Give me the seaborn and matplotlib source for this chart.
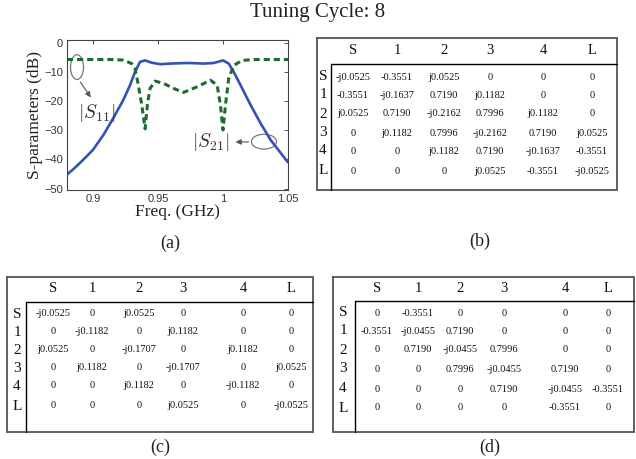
import numpy as np
import pandas as pd
import matplotlib
matplotlib.use("Agg")
import matplotlib.pyplot as plt
from matplotlib.patches import Ellipse
import seaborn as sns

# ---------------- data ----------------
s21_freq = [0.880, 0.885, 0.890, 0.895, 0.900, 0.908, 0.9155, 0.9233, 0.9285, 0.9323,
            0.9362, 0.9401, 0.9452, 0.9516, 0.9594, 0.9650, 0.9723, 0.9800, 0.9851,
            0.9928, 0.9970, 1.0000, 1.0044, 1.0083, 1.0135, 1.0212, 1.0289, 1.0366,
            1.0444, 1.0500]
s21_db = [-45.2, -43.3, -41.2, -39.0, -36.7, -31.6, -25.9, -19.6, -14.5, -10.0,
          -6.5, -6.0, -6.8, -7.3, -7.1, -7.0, -6.9, -7.0, -7.1,
          -6.9, -6.4, -6.0, -7.1, -10.0, -14.5, -21.3, -27.6, -33.3,
          -37.8, -41.0]

s11_freq = [0.880, 0.900, 0.915, 0.9233, 0.9298, 0.9323, 0.9349, 0.9375, 0.9401, 0.9418,
            0.9439, 0.9478, 0.9542, 0.9619, 0.9696, 0.9800, 0.9903, 0.9955, 0.9980,
            1.0000, 1.0019, 1.0044, 1.0083, 1.0148, 1.0250, 1.0500]
s11_db = [-5.7, -5.7, -5.7, -5.9, -7.1, -8.8, -14.5, -21.3, -29.5, -21.3,
          -15.6, -13.1, -13.9, -15.6, -17.0, -15.1, -12.8, -14.5, -21.3,
          -29.9, -21.3, -12.2, -7.7, -6.0, -5.7, -5.7]

x_ticks = [0.9, 0.95, 1.0, 1.05]
x_tick_labels = ["0.9", "0.95", "1", "1.05"]
y_ticks = [0, -10, -20, -30, -40, -50]

nodes = ["S", "1", "2", "3", "4", "L"]

matrix_b = [
    ["-j0.0525", "-0.3551", "j0.0525", "0", "0", "0"],
    ["-0.3551", "-j0.1637", "0.7190", "j0.1182", "0", "0"],
    ["j0.0525", "0.7190", "-j0.2162", "0.7996", "j0.1182", "0"],
    ["0", "j0.1182", "0.7996", "-j0.2162", "0.7190", "j0.0525"],
    ["0", "0", "j0.1182", "0.7190", "-j0.1637", "-0.3551"],
    ["0", "0", "0", "j0.0525", "-0.3551", "-j0.0525"],
]
matrix_c = [
    ["-j0.0525", "0", "j0.0525", "0", "0", "0"],
    ["0", "-j0.1182", "0", "j0.1182", "0", "0"],
    ["j0.0525", "0", "-j0.1707", "0", "j0.1182", "0"],
    ["0", "j0.1182", "0", "-j0.1707", "0", "j0.0525"],
    ["0", "0", "j0.1182", "0", "-j0.1182", "0"],
    ["0", "0", "0", "j0.0525", "0", "-j0.0525"],
]
matrix_d = [
    ["0", "-0.3551", "0", "0", "0", "0"],
    ["-0.3551", "-j0.0455", "0.7190", "0", "0", "0"],
    ["0", "0.7190", "-j0.0455", "0.7996", "0", "0"],
    ["0", "0", "0.7996", "-j0.0455", "0.7190", "0"],
    ["0", "0", "0", "0.7190", "-j0.0455", "-0.3551"],
    ["0", "0", "0", "0", "-0.3551", "0"],
]

# ---------------- style ----------------
sns.set_theme(style="white")
plt.rcParams["font.family"] = ["Liberation Serif", "DejaVu Serif"]
plt.rcParams["mathtext.fontset"] = "cm"

W, H = 636, 459
fig = plt.figure(figsize=(W / 100, H / 100), dpi=100)

# overlay axes in pixel coordinates for tables / captions
ov = fig.add_axes([0, 0, 1, 1])
ov.set_xlim(0, W)
ov.set_ylim(H, 0)
ov.axis("off")

ov.text(318, 13, "Tuning Cycle: 8", ha="center", va="center", fontsize=15, color="#222222")

# ---------------- panel (a) ----------------
ax = fig.add_axes([67 / W, 1 - 190 / H, 221 / W, 150 / H])
df = pd.concat([
    pd.DataFrame({"freq": s21_freq, "db": s21_db, "curve": "S21"}),
    pd.DataFrame({"freq": s11_freq, "db": s11_db, "curve": "S11"}),
], ignore_index=True)

sns.lineplot(data=df[df.curve == "S21"], x="freq", y="db", ax=ax, color="#3452b4",
             linewidth=1.9, estimator=None, sort=False)
sns.lineplot(data=df[df.curve == "S11"], x="freq", y="db", ax=ax, color="#1d6b2e",
             linewidth=2.2, estimator=None, sort=False, dashes=False)
ax.lines[-1].set_linestyle((0, (2.0, 1.3)))

ax.set_xlim(0.88, 1.05)
ax.set_ylim(-50.5, 1.0)
ax.set_xticks(x_ticks)
ax.set_xticklabels(x_tick_labels)
ax.set_yticks(y_ticks)
ax.set_yticklabels(["0", "\u221210", "\u221220", "\u221230", "\u221240", "\u221250"])
ax.tick_params(direction="in", length=3, width=0.6, labelsize=8, colors="#333333",
               top=True, right=True, pad=3)
for lab in ax.get_xticklabels() + ax.get_yticklabels():
    lab.set_family(["Liberation Sans", "DejaVu Sans"])
for sp in ax.spines.values():
    sp.set_color("#444444")
    sp.set_linewidth(0.8)

ax.set_xlabel("Freq. (GHz)", fontsize=12.5, color="#222222")
ax.set_ylabel("S-parameters (dB)", fontsize=12.5, color="#222222")
ax.xaxis.label.set_va("center")
ax.yaxis.label.set_va("center")
ax.xaxis.set_label_coords(0.5, (190 - 212) / 150)
ax.yaxis.set_label_coords((35 - 67) / 221, 0.5)

# annotations
ax.add_patch(Ellipse((0.8877, -8.3), 0.0100, 8.5, fill=False, ec="#777777", lw=0.9))
ax.annotate("", xy=(0.8995, -19.5), xytext=(0.8890, -12.6),
            arrowprops=dict(arrowstyle="-|>", color="#555555", lw=0.8, mutation_scale=8))
ax.text(0.9025, -24.0, r"$|S_{11}|$", ha="center", va="center", fontsize=14, color="#333333")

ax.add_patch(Ellipse((1.0315, -33.9), 0.0193, 5.1, fill=False, ec="#777777", lw=0.9))
ax.annotate("", xy=(1.0075, -34.0), xytext=(1.0218, -34.0),
            arrowprops=dict(arrowstyle="-|>", color="#555555", lw=0.8, mutation_scale=8))
ax.text(0.9905, -34.0, r"$|S_{21}|$", ha="center", va="center", fontsize=14, color="#333333")

ov.text(170, 243, "(a)", ha="center", va="center", fontsize=13, color="#222222")


# ---------------- tables ----------------
def draw_table(box, vline_x, hline_y, header_y, row_ys, label_x, col_xs, matrix, caption_xy, caption):
    x0, y0, x1, y1 = box
    ov.plot([x0, x1, x1, x0, x0], [y0, y0, y1, y1, y0], color="#555555", lw=1.3,
            solid_joinstyle="miter")
    ov.plot([vline_x, vline_x], [hline_y, y1], color="black", lw=1.0)
    ov.plot([vline_x, x1], [hline_y, hline_y], color="black", lw=1.0)
    for cx, name in zip(col_xs, nodes):
        ov.text(cx, header_y, name, ha="center", va="center", fontsize=10.5, color="#111111")
    for ry, name, row in zip(row_ys, nodes, matrix):
        ov.text(label_x, ry, name, ha="center", va="center", fontsize=11, color="#111111")
        for cx, val in zip(col_xs, row):
            ov.text(cx, ry, val, ha="center", va="center", fontsize=7.5, color="#111111")
    ov.text(caption_xy[0], caption_xy[1], caption, ha="center", va="center", fontsize=13,
            color="#222222")


draw_table((317, 38, 617, 190), 331, 64, 50, [77, 95, 114, 133, 151, 171], 323,
           [353, 397, 444, 490, 543, 592], matrix_b, (480, 241), "(b)")
draw_table((7, 277, 313, 432), 26, 302, 288, [314, 332, 350, 368, 386, 406], 17,
           [53, 92, 139, 183, 243, 291], matrix_c, (160, 447), "(c)")
draw_table((333, 277, 634, 432), 355, 301, 288, [313, 331, 350, 369, 389, 408], 343,
           [377, 418, 460, 504, 565, 608], matrix_d, (490, 447), "(d)")

fig.savefig("out.png", dpi=100)
